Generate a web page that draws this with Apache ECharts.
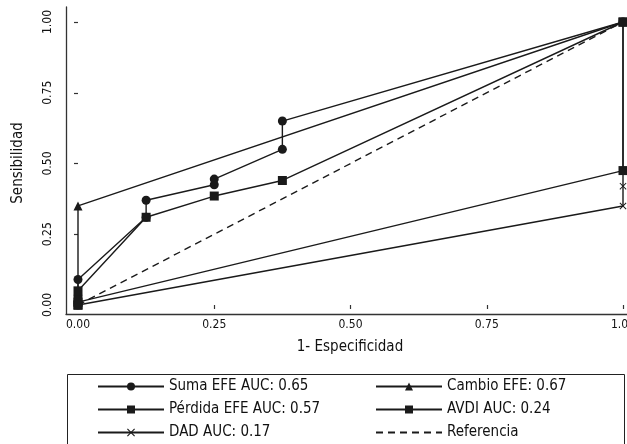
<!DOCTYPE html>
<html>
<head>
<meta charset="utf-8">
<script src="https://cdn.jsdelivr.net/npm/echarts@6/dist/echarts.min.js"></script>
<style>
html,body{margin:0;padding:0;background:#fff;}
#c{width:627px;height:444px;}
</style>
</head>
<body>
<div id="c"></div>
<script>
// ---- data ----
var xTicks = [0, 0.25, 0.5, 0.75, 1];
var yTicks = [0, 0.25, 0.5, 0.75, 1];

var sumaX = [0, 0, 0.125, 0.125, 0.25, 0.25, 0.375, 0.375, 1];
var sumaY = [0, 0.09, 0.31, 0.37, 0.425, 0.445, 0.55, 0.65, 1];

var perdidaX = [0, 0, 0, 0.125, 0.25, 0.375, 1];
var perdidaY = [0, 0.02, 0.05, 0.31, 0.385, 0.44, 1];

var cambioX = [0, 0, 1];
var cambioY = [0, 0.35, 1];

var avdiX = [0, 0, 1, 1];
var avdiY = [0, 0.01, 0.475, 1];

var dadX = [0, 1, 1, 1];
var dadY = [0, 0.35, 0.42, 1];

var refX = [0, 1];
var refY = [0, 1];

var names = ['Suma EFE AUC: 0.65', 'Cambio EFE: 0.67', 'Pérdida EFE AUC: 0.57', 'AVDI AUC: 0.24', 'DAD AUC: 0.17', 'Referencia'];

function pts(xs, ys) { return xs.map(function (x, i) { return [x, ys[i]]; }); }

var FONT = "'Liberation Sans Narrow', 'DejaVu Sans Condensed', sans-serif";
var INK = '#1a1a1a';
var crossPath = 'path://M0,1L1,0L5,4L9,0L10,1L6,5L10,9L9,10L5,6L1,10L0,9L4,5Z';

function lineSeries(name, data, symbol, size, dashed) {
  return {
    name: name, type: 'line', xAxisIndex: 1, yAxisIndex: 1,
    data: data, symbol: symbol, symbolSize: size, showSymbol: symbol !== 'none',
    clip: false, animation: false,
    lineStyle: { color: INK, width: 1.4, type: dashed ? [7, 5] : 'solid' },
    itemStyle: { color: INK },
    emphasis: { disabled: true }
  };
}

var legendPos = [
  [97, 379], [375, 379],
  [97, 402], [375, 402],
  [97, 425], [375, 425]
];
var legends = names.map(function (n, i) {
  var item = { name: n };
  if (n === 'Referencia') item.itemStyle = { color: 'rgba(0,0,0,0)', borderWidth: 0, opacity: 0 };
  return {
    orient: 'horizontal', left: legendPos[i][0], top: legendPos[i][1], padding: 0,
    itemWidth: 66, itemHeight: 10, data: [item], selectedMode: false,
    textStyle: { fontSize: 15, color: '#111', fontFamily: FONT }
  };
});

var chart = echarts.init(document.getElementById('c'), null, { renderer: 'canvas' });
chart.setOption({
  backgroundColor: '#fff',
  animation: false,
  textStyle: { fontFamily: FONT },
  grid: [
    { left: 66, right: 0, top: 7, bottom: 130, outerBoundsMode: 'none', containLabel: false },
    { left: 78, right: 4, top: 22, bottom: 139, outerBoundsMode: 'none', containLabel: false }
  ],
  xAxis: [
    { type: 'value', gridIndex: 0, min: 0, max: 1,
      axisLine: { show: true, lineStyle: { color: '#333', width: 1.3 } },
      axisTick: { show: false }, axisLabel: { show: false }, splitLine: { show: false } },
    { type: 'value', gridIndex: 1, min: xTicks[0], max: xTicks[xTicks.length - 1], interval: 0.25,
      offset: 9,
      axisLine: { show: false },
      axisTick: { show: true, length: 4, lineStyle: { color: '#333', width: 1.2 } },
      axisLabel: { show: true, color: '#111', fontSize: 12, fontFamily: FONT, margin: 5,
        formatter: function (v) { return v.toFixed(2); } },
      splitLine: { show: false } }
  ],
  yAxis: [
    { type: 'value', gridIndex: 0, min: 0, max: 1,
      axisLine: { show: true, lineStyle: { color: '#333', width: 1.3 } },
      axisTick: { show: false }, axisLabel: { show: false }, splitLine: { show: false } },
    { type: 'value', gridIndex: 1, min: yTicks[0], max: yTicks[yTicks.length - 1], interval: 0.25,
      offset: 12,
      axisLine: { show: false },
      axisTick: { show: true, length: 4, lineStyle: { color: '#333', width: 1.2 } },
      axisLabel: { show: true, color: '#111', fontSize: 12, fontFamily: FONT, margin: 12, rotate: 90,
        formatter: function (v) { return v.toFixed(2); } },
      splitLine: { show: false } }
  ],
  legend: legends,
  graphic: [
    { type: 'rect', shape: { x: 67.5, y: 374.5, width: 557, height: 80 },
      style: { fill: 'none', stroke: '#222', lineWidth: 1 }, z: 0 },
    { type: 'text', x: 350, y: 347, style: { text: '1- Especificidad', font: '15px ' + FONT, fill: '#111',
      textAlign: 'center', textVerticalAlign: 'middle' } },
    { type: 'text', x: 18, y: 163, rotation: Math.PI / 2, style: { text: 'Sensibilidad', font: '15px ' + FONT, fill: '#111',
      textAlign: 'center', textVerticalAlign: 'middle' } }
  ],
  series: [
    lineSeries(names[5], pts(refX, refY), 'none', 0, true),
    lineSeries(names[4], pts(dadX, dadY), crossPath, 7, false),
    lineSeries(names[3], pts(avdiX, avdiY), 'rect', 9, false),
    lineSeries(names[1], pts(cambioX, cambioY), 'triangle', 9, false),
    lineSeries(names[2], pts(perdidaX, perdidaY), 'rect', 9, false),
    lineSeries(names[0], pts(sumaX, sumaY), 'circle', 9, false)
  ]
});
</script>
</body>
</html>
